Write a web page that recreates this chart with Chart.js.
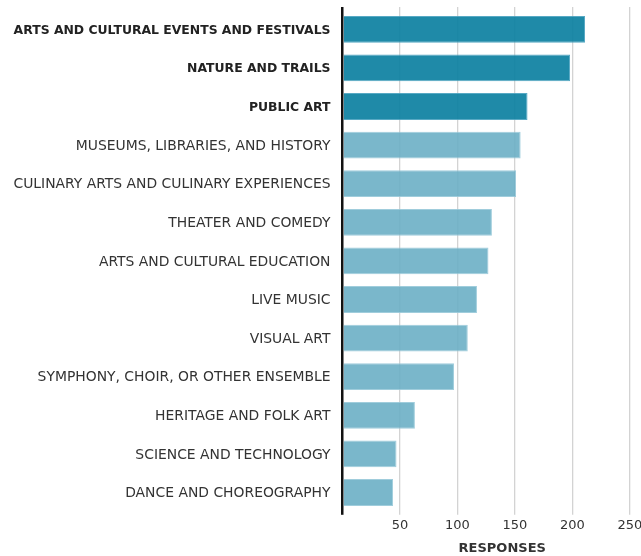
<!DOCTYPE html>
<html>
<head>
<meta charset="utf-8">
<script src="https://cdn.jsdelivr.net/npm/chart.js@4.4.1/dist/chart.umd.min.js"></script>
<style>
  html, body { margin: 0; padding: 0; background: #fff; overflow: hidden; }
  #wrap { position: relative; width: 664px; height: 556px; }
</style>
</head>
<body>
<div id="wrap"><canvas id="c"></canvas></div>
<script>
const categories = [
  "ARTS AND CULTURAL EVENTS AND FESTIVALS",
  "NATURE AND TRAILS",
  "PUBLIC ART",
  "MUSEUMS, LIBRARIES, AND HISTORY",
  "CULINARY ARTS AND CULINARY EXPERIENCES",
  "THEATER AND COMEDY",
  "ARTS AND CULTURAL EDUCATION",
  "LIVE MUSIC",
  "VISUAL ART",
  "SYMPHONY, CHOIR, OR OTHER ENSEMBLE",
  "HERITAGE AND FOLK ART",
  "SCIENCE AND TECHNOLOGY",
  "DANCE AND CHOREOGRAPHY"
];
const responses = [211, 198, 161, 155, 151, 130, 127, 117, 109, 97, 63, 47, 44];
const highlighted = [true, true, true, false, false, false, false, false, false, false, false, false, false];
const xTickValues = [0, 50, 100, 150, 200, 250];
const axisTitle = "RESPONSES";

const DARK = 'rgba(19,132,163,0.95)';
const LIGHT = 'rgba(107,175,197,0.9)';
const DARK_BORDER = 'rgba(70,160,190,0.9)';
const LIGHT_BORDER = 'rgba(150,200,216,0.9)';
const FONT = '"DejaVu Sans", sans-serif';

const gridColor = ctx => (ctx.tick && ctx.tick.value === 0) ? '#111' : 'rgba(200,200,200,0.8)';
const gridWidth = ctx => (ctx.tick && ctx.tick.value === 0) ? 2.5 : 1.3;

new Chart(document.getElementById('c'), {
  type: 'bar',
  data: {
    labels: categories,
    datasets: [{
      data: responses,
      backgroundColor: highlighted.map(h => h ? DARK : LIGHT),
      borderColor: highlighted.map(h => h ? DARK_BORDER : LIGHT_BORDER),
      borderWidth: 1,
      borderSkipped: 'start',
      categoryPercentage: 1,
      barPercentage: 0.695
    }]
  },
  options: {
    indexAxis: 'y',
    responsive: true,
    maintainAspectRatio: false,
    animation: false,
    layout: { padding: { top: 7, right: 2, left: 0, bottom: 0 } },
    plugins: { legend: { display: false }, tooltip: { enabled: false } },
    scales: {
      x: {
        type: 'linear',
        position: 'bottom',
        min: 0,
        max: 278,
        afterBuildTicks: s => { s.ticks = xTickValues.map(v => ({ value: v })); },
        ticks: {
          includeBounds: false,
          padding: 3.5,
          color: '#333',
          font: { family: FONT, size: 13 },
          maxRotation: 0,
          callback: v => v === 0 ? '' : String(v)
        },
        grid: { color: gridColor, lineWidth: gridWidth, drawTicks: true, tickLength: 3 },
        border: { display: false },
        title: {
          display: true,
          text: axisTitle,
          color: '#333',
          font: { family: FONT, size: 13, weight: 'bold' },
          padding: { top: 3, bottom: 0 }
        }
      },
      x2: {
        type: 'linear',
        position: 'top',
        min: 0,
        max: 278,
        afterBuildTicks: s => { s.ticks = xTickValues.map(v => ({ value: v })); },
        ticks: { display: false },
        grid: { color: gridColor, lineWidth: gridWidth, drawTicks: true, tickLength: 3, drawOnChartArea: false },
        border: { display: false }
      },
      y: {
        type: 'category',
        afterFit: s => { s.width = 342.5; s.paddingTop = 0; s.paddingBottom = 0; },
        ticks: {
          padding: 12,
          labelOffset: 1,
          color: ctx => highlighted[ctx.index] ? '#222' : '#333',
          font: ctx => highlighted[ctx.index]
            ? { family: FONT, size: 12.4, weight: 'bold' }
            : { family: FONT, size: 13.9, weight: 'normal' }
        },
        grid: { display: false, drawTicks: false },
        border: { display: false }
      }
    }
  }
});
</script>
</body>
</html>
